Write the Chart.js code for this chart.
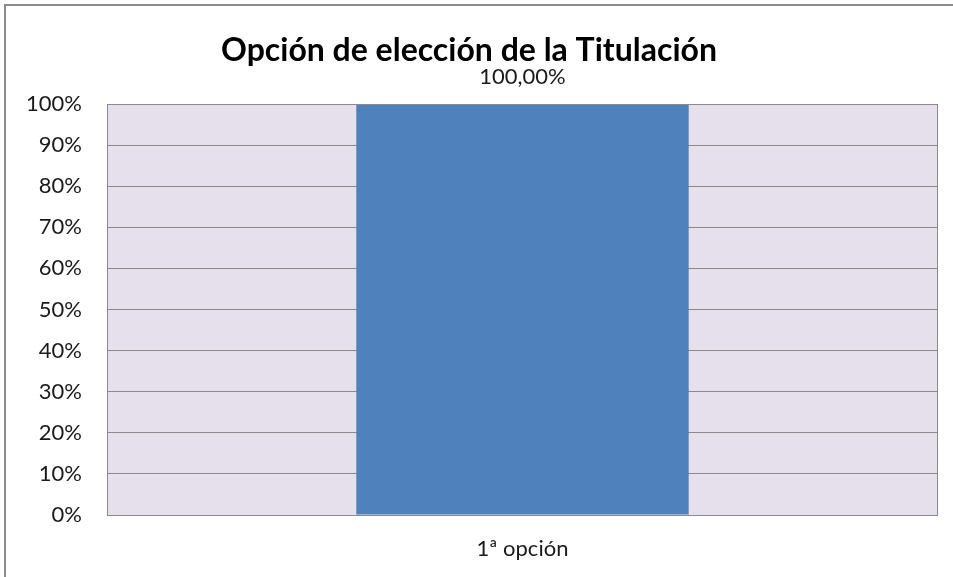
<!DOCTYPE html>
<html>
<head>
<meta charset="utf-8">
<script src="https://cdn.jsdelivr.net/npm/chart.js@4"></script>
<style>
  html, body { margin: 0; padding: 0; background: #fff; }
  #frame { position: absolute; left: 4px; top: 4px; width: 980px; height: 600px; border: 2px solid #8c8c8c; }
  #wrap { position: absolute; left: 0; top: 0; width: 953px; height: 577px; }
</style>
</head>
<body>
<div id="frame"></div>
<div id="wrap"><canvas id="myChart" width="953" height="577"></canvas></div>
<script>
    const categories = ['1ª opción'];
    const values = [1.0];
    const tickValues = [0, 0.1, 0.2, 0.3, 0.4, 0.5, 0.6, 0.7, 0.8, 0.9, 1.0];

    const fmtLabel = v => (v * 100).toFixed(2).replace('.', ',') + '%';

    const plotArea = {
        id: 'plotArea',
        beforeDraw(chart) {
            const a = chart.chartArea, c = chart.ctx;
            c.save();
            c.fillStyle = '#e5e0ec';
            c.fillRect(a.left, a.top, a.right - a.left, a.bottom - a.top);
            c.restore();
        },
        afterDatasetsDraw(chart) {
            const a = chart.chartArea, c = chart.ctx;
            c.save();
            c.strokeStyle = '#8a8a8a';
            c.lineWidth = 1;
            c.strokeRect(a.left + 0.5, a.top + 0.5, a.right - a.left - 1, a.bottom - a.top);
            c.fillStyle = '#1a1a1a';
            c.font = '22px Lato';
            c.textAlign = 'center';
            c.textBaseline = 'middle';
            chart.getDatasetMeta(0).data.forEach((bar, i) => {
                c.fillText(fmtLabel(values[i]), bar.x, bar.y - 27);
            });
            c.restore();
        }
    };

    const ctx = document.getElementById('myChart').getContext('2d');
    const myChart = new Chart(ctx, {
        type: 'bar',
        data: {
            labels: categories,
            datasets: [{
                data: values,
                backgroundColor: '#4f81bd',
                borderWidth: 0,
                barPercentage: 0.4,
                categoryPercentage: 1
            }]
        },
        options: {
            responsive: false,
            animation: false,
            layout: { padding: { left: 0, right: 15, top: 0, bottom: 0 } },
            plugins: {
                legend: { display: false },
                tooltip: { enabled: false },
                title: {
                    display: true,
                    text: 'Opción de elección de la Titulación',
                    color: '#000',
                    font: { family: 'Lato', size: 32, weight: 'bold', lineHeight: 1.2 },
                    padding: { top: 31, bottom: 34.6 }
                }
            },
            scales: {
                x: {
                    grid: { display: false, drawTicks: false },
                    border: { display: false },
                    ticks: { color: '#1a1a1a', font: { family: 'Lato', size: 22 }, padding: 21 },
                    afterFit: s => { s.height = 62; }
                },
                y: {
                    min: 0,
                    max: 1,
                    afterBuildTicks: s => { s.ticks = tickValues.map(v => ({ value: v })); },
                    grid: { color: '#8a8a8a', drawTicks: false },
                    border: { display: false },
                    ticks: {
                        color: '#1a1a1a',
                        font: { family: 'Lato', size: 22 },
                        padding: 25,
                        callback: v => Math.round(v * 100) + '%'
                    },
                    afterFit: s => { s.width = 107; }
                }
            }
        },
        plugins: [plotArea]
    });
</script>
</body>
</html>
